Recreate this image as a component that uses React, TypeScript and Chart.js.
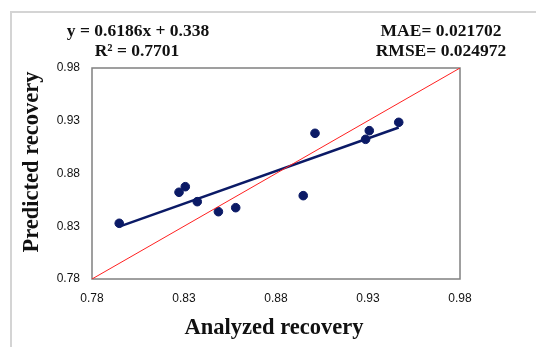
import React, { useEffect, useRef } from "react";
import { Chart, registerables } from "chart.js";

Chart.register(...registerables);

const analyzed = [0.7948, 0.8273, 0.8307, 0.8372, 0.8487, 0.8581, 0.8948, 0.9012, 0.9287, 0.9307, 0.9467];
const predicted = [0.8328, 0.8622, 0.8675, 0.8533, 0.8438, 0.8476, 0.859, 0.9181, 0.9124, 0.9206, 0.9285];
const tickValues = [0.78, 0.83, 0.88, 0.93, 0.98];
const slope = 0.6186;
const intercept = 0.338;
const equationText = "y = 0.6186x + 0.338";
const r2Text = "R² = 0.7701";
const maeText = "MAE= 0.021702";
const rmseText = "RMSE= 0.024972";
const xTitle = "Analyzed recovery";
const yTitle = "Predicted recovery";

const xMin = Math.min(...analyzed);
const xMax = Math.max(...analyzed);
const trend = [
  { x: xMin, y: slope * xMin + intercept },
  { x: xMax, y: slope * xMax + intercept },
];
const identity = [
  { x: tickValues[0], y: tickValues[0] },
  { x: tickValues[tickValues.length - 1], y: tickValues[tickValues.length - 1] },
];

const NAVY = "#0b1a66";
const SERIF = "'Liberation Serif', 'Times New Roman', serif";

const decor = {
  id: "decor",
  beforeDatasetsDraw(chart: any) {
    const { ctx, chartArea } = chart;
    ctx.save();
    ctx.strokeStyle = "#d4d4d4";
    ctx.lineWidth = 2;
    ctx.beginPath();
    ctx.moveTo(11, 347);
    ctx.lineTo(11, 12);
    ctx.lineTo(536, 12);
    ctx.stroke();
    ctx.strokeStyle = "#808080";
    ctx.lineWidth = 1.5;
    ctx.strokeRect(chartArea.left, chartArea.top, chartArea.right - chartArea.left, chartArea.bottom - chartArea.top);
    ctx.restore();
  },
  afterDraw(chart: any) {
    const { ctx } = chart;
    ctx.save();
    ctx.fillStyle = "#111";
    ctx.textBaseline = "middle";
    ctx.textAlign = "center";
    ctx.font = `bold 17.5px ${SERIF}`;
    ctx.fillText(equationText, 138, 31);
    ctx.fillText(r2Text, 137, 51);
    ctx.fillText(maeText, 441, 31);
    ctx.fillText(rmseText, 441, 51);
    ctx.font = `bold 22.5px ${SERIF}`;
    ctx.fillText(xTitle, 274, 328);
    ctx.translate(32, 162);
    ctx.rotate(-Math.PI / 2);
    ctx.fillText(yTitle, 0, 0);
    ctx.restore();
  },
};

export default function App() {
  const ref = useRef<HTMLCanvasElement>(null);
  useEffect(() => {
    const tickFont = { family: "'Liberation Sans', Arial, sans-serif", size: 12 };
    const chart = new Chart(ref.current!, {
      type: "scatter",
      data: {
        datasets: [
          {
            type: "line",
            data: identity,
            borderColor: "#ff2020",
            borderWidth: 1,
            pointRadius: 0,
            fill: false,
          } as any,
          {
            type: "line",
            data: trend,
            borderColor: NAVY,
            borderWidth: 2.5,
            pointRadius: 0,
            fill: false,
          } as any,
          {
            data: analyzed.map((x, i) => ({ x, y: predicted[i] })),
            backgroundColor: NAVY,
            borderColor: NAVY,
            pointRadius: 4.3,
            pointHoverRadius: 4.3,
          },
        ],
      },
      options: {
        animation: false,
        responsive: false,
        events: [],
        layout: { padding: { top: 68, right: 76, bottom: 0, left: 0 } },
        plugins: { legend: { display: false }, tooltip: { enabled: false } },
        scales: {
          x: {
            type: "linear",
            min: tickValues[0],
            max: tickValues[tickValues.length - 1],
            afterBuildTicks: (s: any) => {
              s.ticks = tickValues.map((v) => ({ value: v }));
            },
            afterFit: (s: any) => {
              s.height = 68;
            },
            grid: { display: false, drawTicks: false },
            border: { display: false },
            ticks: {
              font: tickFont,
              color: "#111",
              padding: 12,
              maxRotation: 0,
              callback: (v: any) => Number(v).toFixed(2),
            },
          },
          y: {
            type: "linear",
            min: tickValues[0],
            max: tickValues[tickValues.length - 1],
            afterBuildTicks: (s: any) => {
              s.ticks = tickValues.map((v) => ({ value: v }));
            },
            afterFit: (s: any) => {
              s.width = 92;
            },
            grid: { display: false, drawTicks: false },
            border: { display: false },
            ticks: {
              font: tickFont,
              color: "#111",
              padding: 12,
              callback: (v: any) => Number(v).toFixed(2),
            },
          },
        },
      },
      plugins: [decor],
    });
    return () => chart.destroy();
  }, []);
  return (
    <div style={{ position: "fixed", left: 0, top: 0, width: 536, height: 347, background: "#fff" }}>
      <canvas ref={ref} width={536} height={347} style={{ display: "block" }} />
    </div>
  );
}
